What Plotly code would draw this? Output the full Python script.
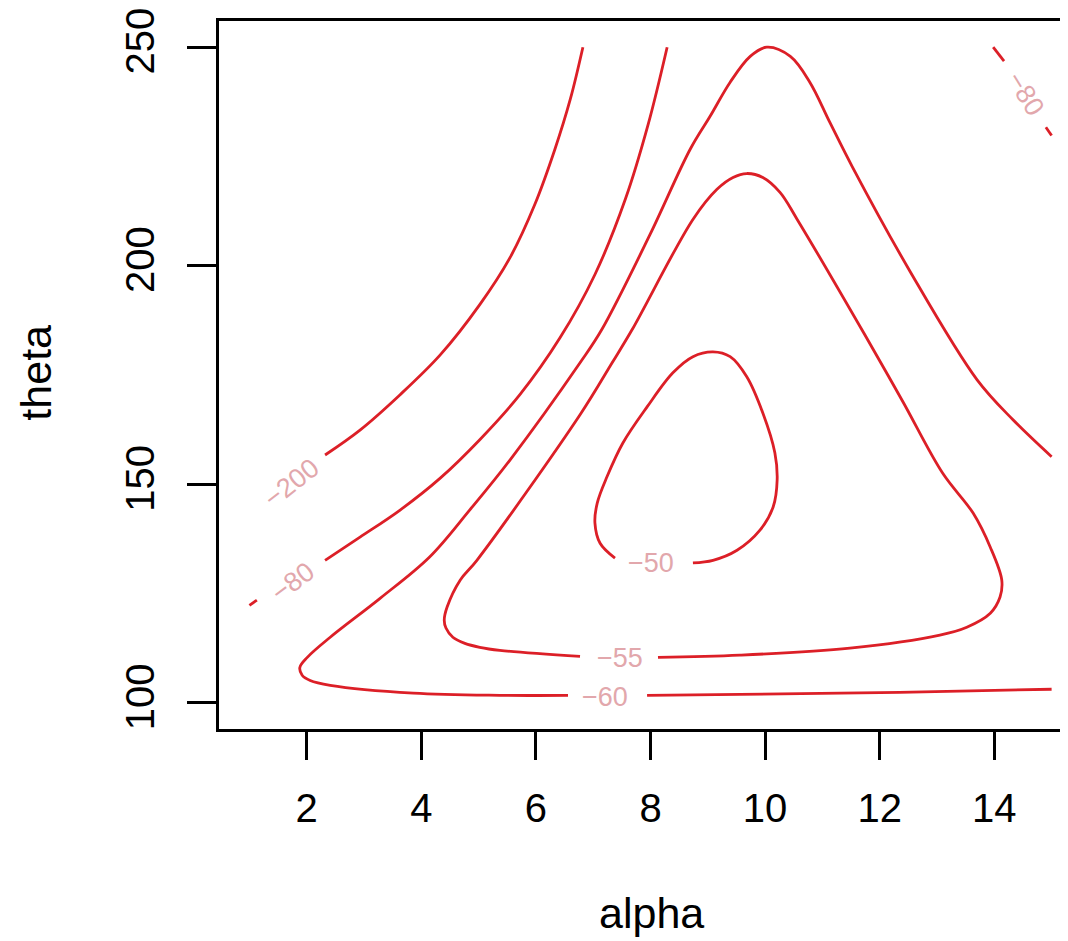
import plotly.graph_objects as go

# ---- data: contour lines (alpha, theta); None = label gap ----
levels = [-50, -55, -60, -80, -200]

c50_alpha = [8.74, 9.09, 9.51, 9.91, 10.14, 10.21, 10.17, 9.96, 9.68, 9.39, 9.09, 8.74, 8.39, 7.94, 7.52, 7.24, 7.07, 7.03, 7.12, 7.38]
c50_theta = [132.0, 132.6, 134.9, 139.5, 144.8, 151.0, 157.2, 166.3, 174.6, 179.2, 180.3, 179.2, 175.5, 167.7, 159.5, 151.7, 145.7, 141.1, 136.5, 133.1]

c55_alpha = [8.13, 9.56, 11.48, 13.05, 13.52, 13.93, 14.10, 14.13, 13.93, 13.63, 13.10, 12.40, 11.74, 10.56, 10.26, 9.96, 9.68,
             9.44, 9.16, 8.74, 7.68, 7.33, 6.77, 4.97, 4.68, 4.45, 4.40, 4.43, 4.55, 4.76, 5.02, 5.37, 6.77]
c55_theta = [110.4, 110.9, 112.5, 115.5, 117.3, 120.5, 124.2, 128.1, 135.6, 143.4, 152.5, 169.0, 184.2, 210.6, 216.8, 220.2, 221.1,
             220.2, 217.5, 210.6, 185.4, 177.8, 165.9, 132.6, 128.1, 121.9, 118.9, 117.1, 115.0, 113.6, 112.7, 112.0, 110.6]

c60_alpha = [15.0, 14.33, 13.70, 12.53, 11.52, 11.13, 10.78, 10.44, 10.03, 9.74, 9.39, 9.04, 8.69, 7.99, 7.15, 6.77, 5.55, 4.85,
             4.14, 3.28, 2.41, 2.01, 1.88, 1.92, 2.06, 2.41, 3.86, 5.37, 6.56,
             None, 7.94, 9.56, 12.35, 15.0]
c60_theta = [156.3, 164.7, 173.9, 198.7, 222.7, 232.8, 242.0, 247.9, 250.0, 247.9, 242.0, 234.2, 226.6, 207.1, 185.4, 177.8, 155.6, 144.2,
             133.3, 123.9, 115.0, 110.4, 108.1, 106.3, 105.1, 104.0, 102.2, 101.7, 101.7,
             None, 101.7, 101.9, 102.4, 103.1]

c80_alpha = [1.0, 1.13, None, 2.32, 2.93, 3.63, 4.33, 5.02, 5.72, 6.42, 7.03, 7.56, 7.96, 8.29,
             None, 13.98, 14.17, None, 14.90, 15.0]
c80_theta = [122.3, 123.5, None, 132.6, 137.9, 144.1, 151.4, 160.2, 170.5, 183.5, 198.0, 215.2, 232.4, 250.0,
             None, 250.0, 246.8, None, 231.7, 229.8]

c200_alpha = [2.32, 2.93, 3.63, 4.33, 5.02, 5.55, 5.98, 6.33, 6.60, 6.82]
c200_theta = [156.7, 162.4, 170.5, 179.6, 191.1, 201.9, 214.0, 226.6, 238.1, 250.0]

label_text = ["−50", "−55", "−60", "−80", "−200", "−80"]
label_alpha = [8.01, 7.47, 7.21, 1.76, 1.74, 14.54]
label_theta = [132.0, 110.2, 101.3, 127.6, 150.3, 239.2]
label_angle = [0, 0, 0, -37, -38, 58]

x_ticks = [2, 4, 6, 8, 10, 12, 14]
y_ticks = [100, 150, 200, 250]

RED = "#dc1f27"
LABEL = "#e2a7ac"
FONT = "Liberation Sans, Arial, Helvetica, sans-serif"

fig = go.Figure()
for xs, ys in [(c50_alpha, c50_theta), (c55_alpha, c55_theta), (c60_alpha, c60_theta),
               (c80_alpha, c80_theta), (c200_alpha, c200_theta)]:
    fig.add_trace(go.Scatter(x=xs, y=ys, mode="lines", connectgaps=False,
                             line=dict(color=RED, width=2.8, shape="spline", smoothing=1.0),
                             hoverinfo="skip", showlegend=False))

for t, a, th, ang in zip(label_text, label_alpha, label_theta, label_angle):
    fig.add_annotation(x=a, y=th, text=t, showarrow=False, textangle=ang,
                       font=dict(family=FONT, size=27, color=LABEL),
                       xanchor="center", yanchor="middle")

fig.add_annotation(xref="paper", yref="paper", x=0.509, y=-0.26, text="alpha", showarrow=False,
                   font=dict(family=FONT, size=43, color="black"), xanchor="center", yanchor="middle")
fig.add_annotation(xref="paper", yref="paper", x=-0.215, y=0.504, text="theta", showarrow=False,
                   textangle=-90, font=dict(family=FONT, size=43, color="black"),
                   xanchor="center", yanchor="middle")

# page body adds an 8px offset, so the figure is 8px smaller and margins shifted
fig.update_layout(
    width=1060, height=933,
    margin=dict(l=211, r=0, t=13, b=212),
    paper_bgcolor="white", plot_bgcolor="white",
    font=dict(family=FONT, color="black"),
    xaxis=dict(range=[0.469, 15.286], tickvals=x_ticks, ticks="outside", ticklen=28, tickwidth=2.5,
               tickcolor="black", showgrid=False, zeroline=False, showline=True, linecolor="black",
               linewidth=2.5, mirror=True, tickfont=dict(size=40, family=FONT, color="black"),
               ticklabelstandoff=14, ticklabeloverflow="allow"),
    yaxis=dict(range=[94.0, 256.0], tickvals=y_ticks, ticks="outside", ticklen=29, tickwidth=2.5,
               tickcolor="black", showgrid=False, zeroline=False, showline=True, linecolor="black",
               linewidth=2.5, mirror=False, tickangle=-90,
               tickfont=dict(size=40, family=FONT, color="black"), ticklabelstandoff=17,
               ticklabeloverflow="allow"),
)

fig.write_html("out.html")
